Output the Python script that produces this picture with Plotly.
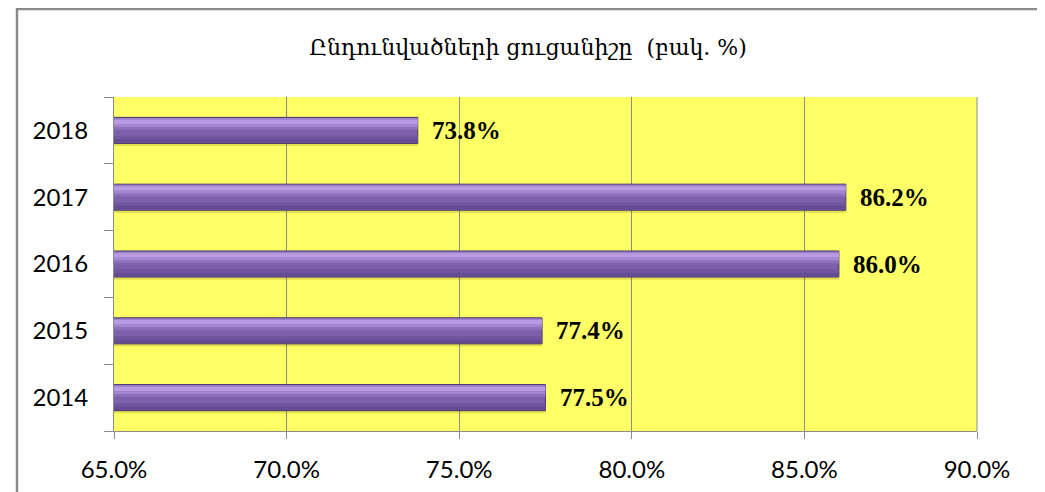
import plotly.graph_objects as go

years = ["2014", "2015", "2016", "2017", "2018"]
values = [77.5, 77.4, 86.0, 86.2, 73.8]
x_ticks = [65, 70, 75, 80, 85, 90]
x_tick_labels = ["65.0%", "70.0%", "75.0%", "80.0%", "85.0%", "90.0%"]
title_text = "Ընդունվածների ցուցանիշը  (բակ. %)"

OFF = 8  # page body margin
W, H = 1045 - OFF, 492 - OFF
L, T = 114 - OFF, 97 - OFF
R = W - (977 - OFF)
B = H - (431 - OFF)
PW, PH = W - L - R, H - T - B

fig = go.Figure()

HALF = 0.195
# shadow
fig.add_trace(go.Bar(y=years, x=values, orientation="h", width=0.40, offset=-0.235,
                     marker=dict(color="rgba(110,100,0,0.20)", line=dict(width=0)),
                     hoverinfo="skip", showlegend=False))
# main bar with outline
fig.add_trace(go.Bar(y=years, x=values, orientation="h", width=2 * HALF, offset=-HALF,
                     marker=dict(color="#7D60AC", line=dict(color="#4A376F", width=1)),
                     showlegend=False))
# gradient bands (top -> bottom): (top, bottom, color)
bands = [
    (0.185, 0.160, "#9C80CA"),
    (0.160, 0.095, "#B89BE0"),
    (0.095, 0.050, "#A487D0"),
    (0.050, 0.010, "#8D70BA"),
    (-0.080, -0.130, "#71559E"),
    (-0.130, -0.185, "#654B92"),
]
for top, bot, col in bands:
    fig.add_trace(go.Bar(y=years, x=values, orientation="h", width=top - bot, offset=bot,
                         marker=dict(color=col, line=dict(width=0)),
                         hoverinfo="skip", showlegend=False))

for i, v in enumerate(values):
    fig.add_annotation(x=v, y=i, text=f"<b>{v:.1f}%</b>", showarrow=False,
                       xanchor="left", yanchor="middle", xshift=12,
                       font=dict(family="Liberation Serif", size=25, color="black"))

fig.update_layout(
    width=W, height=H,
    margin=dict(l=L, r=R, t=T, b=B, pad=0, autoexpand=False),
    paper_bgcolor="white",
    plot_bgcolor="#FFFF66",
    barmode="overlay",
    title=dict(text=title_text, x=(528 - OFF) / W, xref="container", xanchor="center",
               y=1 - (47 - OFF) / H, yref="container", yanchor="middle",
               font=dict(family="DejaVu Serif", size=22, color="black")),
    xaxis=dict(range=[65, 90], tickvals=x_ticks, ticktext=x_tick_labels,
               showgrid=True, gridcolor="#8C8C8C", gridwidth=1,
               showline=True, linecolor="#8C8C8C", linewidth=1, mirror=False,
               ticks="outside", ticklen=7, tickcolor="#8C8C8C",
               ticklabelstandoff=10, zeroline=False, automargin=False,
               tickfont=dict(family="Lato", size=24, color="black")),
    yaxis=dict(type="category", categoryorder="array", categoryarray=years,
               range=[-0.5, 4.5],
               showline=True, linecolor="#8C8C8C", linewidth=1,
               ticks="outside", ticklen=9, tickcolor="#8C8C8C",
               tickson="boundaries", showgrid=False, automargin=False,
               ticklabelstandoff=20,
               tickfont=dict(family="Lato", size=24, color="black")),
    shapes=[
        dict(type="line", xref="paper", yref="paper", x0=1, x1=1, y0=0, y1=1,
             line=dict(color="#8C8C8C", width=1)),
        dict(type="rect", xref="paper", yref="paper",
             x0=(17 - OFF - L) / PW, x1=(1039 - OFF - L) / PW,
             y0=-0.5, y1=(H - B - (9 - OFF)) / PH,
             line=dict(color="#8A8A8A", width=2.5), fillcolor="rgba(0,0,0,0)"),
    ],
)

fig.write_html("out.html")
